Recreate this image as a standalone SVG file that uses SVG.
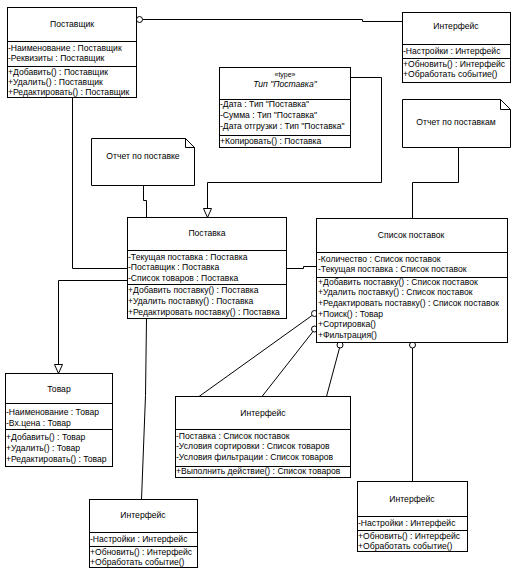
<svg xmlns="http://www.w3.org/2000/svg" width="515" height="575" viewBox="0 0 515 575">
<style>
  .box { fill: #fff; stroke: #000; stroke-width: 1; }
  .sep { stroke: #000; stroke-width: 1; }
  .ln { fill: none; stroke: #000; stroke-width: 1; }
  .lol { fill: #fff; stroke: #000; stroke-width: 1; }
  .arr { fill: #fff; stroke: #000; stroke-width: 1; }
  text { font-family: "Liberation Sans", Arial, sans-serif; font-size: 8.6px; fill: #000; }
  .t { text-anchor: middle; }
  .st { font-size: 7px; text-anchor: middle; }
  .it { font-style: italic; text-anchor: middle; }
</style>
<rect width="515" height="575" fill="#fff"/>

<g id="connectors">
  <polyline class="ln" points="142.5,19.5 362.5,19.5 362.5,21.5 402.5,21.5"/>
  <polyline class="ln" points="72.5,97.5 72.5,268.5 127.5,268.5"/>
  <polyline class="ln" points="350.5,77.5 381.5,77.5 381.5,182.5 207.5,182.5 207.5,208.5"/>
  <polygon class="arr" points="203.5,208.5 211.5,208.5 207.5,217.5"/>
  <polyline class="ln" points="143.5,185.5 143.5,200.5 146.5,200.5 146.5,217.5"/>
  <polyline class="ln" points="458.5,147.5 458.5,182.5 412.5,182.5 412.5,218.5"/>
  <polyline class="ln" points="286.5,268.5 303.5,268.5 303.5,266.5 316.5,266.5"/>
  <polyline class="ln" points="127.5,280.5 58.5,280.5 58.5,364.5"/>
  <polygon class="arr" points="54.5,364.5 62.5,364.5 58.5,373.5"/>
  <polyline class="ln" points="146.5,318.5 145.5,395.5 141.5,499.5"/>
  <line class="ln" x1="312" y1="315.5" x2="199" y2="396.5"/>
  <line class="ln" x1="313" y1="331.5" x2="262" y2="396.5"/>
  <line class="ln" x1="339.5" y1="348" x2="326.5" y2="396.5"/>
  <line class="ln" x1="412.5" y1="348" x2="412.5" y2="481.5"/>
  <circle class="lol" cx="139.5" cy="19.5" r="3"/>
  <circle class="lol" cx="314.5" cy="313.5" r="3"/>
  <circle class="lol" cx="314.5" cy="329" r="3"/>
  <circle class="lol" cx="340" cy="345" r="3"/>
  <circle class="lol" cx="412.5" cy="345" r="3"/>
</g>

<g id="postavshchik">
  <rect class="box" x="7.5" y="7.5" width="129" height="90"/>
  <line class="sep" x1="7.5" y1="41.5" x2="136.5" y2="41.5"/>
  <line class="sep" x1="7.5" y1="66.5" x2="136.5" y2="66.5"/>
  <text class="t" x="72" y="27">Поставщик</text>
  <text x="8" y="51">-Наименование : Поставщик</text>
  <text x="8" y="61">-Реквизиты : Поставщик</text>
  <text x="8" y="75">+Добавить() : Поставщик</text>
  <text x="8" y="85">+Удалить() : Поставщик</text>
  <text x="8" y="95">+Редактировать() : Поставщик</text>
</g>

<g id="interface-top">
  <rect class="box" x="402.5" y="12.5" width="108" height="70"/>
  <line class="sep" x1="402.5" y1="44.5" x2="510.5" y2="44.5"/>
  <line class="sep" x1="402.5" y1="58.5" x2="510.5" y2="58.5"/>
  <text class="t" x="456" y="29">Интерфейс</text>
  <text x="403" y="54">-Настройки : Интерфейс</text>
  <text x="403" y="67">+Обновить() : Интерфейс</text>
  <text x="403" y="77">+Обработать событие()</text>
</g>

<g id="type-postavka">
  <rect class="box" x="219.5" y="67.5" width="131" height="80"/>
  <line class="sep" x1="219.5" y1="99.5" x2="350.5" y2="99.5"/>
  <line class="sep" x1="219.5" y1="135.5" x2="350.5" y2="135.5"/>
  <text class="st" x="285" y="77">«type»</text>
  <text class="it" x="285" y="87">Тип "Поставка"</text>
  <text x="220" y="107">-Дата : Тип "Поставка"</text>
  <text x="220" y="118">-Сумма : Тип "Поставка"</text>
  <text x="220" y="129">-Дата отгрузки : Тип "Поставка"</text>
  <text x="220" y="144">+Копировать() : Поставка</text>
</g>

<g id="note-postavka">
  <path class="box" d="M91.5,138.5 H185.5 L194.5,147.5 V185.5 H91.5 Z"/>
  <polyline class="ln" points="185.5,138.5 185.5,147.5 194.5,147.5"/>
  <text class="t" x="143" y="159">Отчет по поставке</text>
</g>

<g id="note-postavki">
  <path class="box" d="M402.5,99.5 H500.5 L510.5,109.5 V147.5 H402.5 Z"/>
  <polyline class="ln" points="500.5,99.5 500.5,109.5 510.5,109.5"/>
  <text class="t" x="456" y="125">Отчет по поставкам</text>
</g>

<g id="postavka">
  <rect class="box" x="127.5" y="217.5" width="159" height="101"/>
  <line class="sep" x1="127.5" y1="250.5" x2="286.5" y2="250.5"/>
  <line class="sep" x1="127.5" y1="284.5" x2="286.5" y2="284.5"/>
  <text class="t" x="207" y="236">Поставка</text>
  <text x="128" y="260">-Текущая поставка : Поставка</text>
  <text x="128" y="270">-Поставщик : Поставка</text>
  <text x="128" y="281">-Список товаров : Поставка</text>
  <text x="128" y="293">+Добавить поставку() : Поставка</text>
  <text x="128" y="304">+Удалить поставку() : Поставка</text>
  <text x="128" y="315">+Редактировать поставку() : Поставка</text>
</g>

<g id="spisok-postavok">
  <rect class="box" x="316.5" y="218.5" width="191" height="124"/>
  <line class="sep" x1="316.5" y1="252.5" x2="507.5" y2="252.5"/>
  <line class="sep" x1="316.5" y1="277.5" x2="507.5" y2="277.5"/>
  <text class="t" x="411" y="238">Список поставок</text>
  <text x="318" y="262">-Количество : Список поставок</text>
  <text x="318" y="272">-Текущая поставка : Список поставок</text>
  <text x="318" y="285">+Добавить поставку() : Список поставок</text>
  <text x="318" y="295">+Удалить поставку() : Список поставок</text>
  <text x="318" y="306">+Редактировать поставку() : Список поставок</text>
  <text x="318" y="317">+Поиск() : Товар</text>
  <text x="318" y="327">+Сортировка()</text>
  <text x="318" y="338">+Фильтрация()</text>
</g>

<g id="tovar">
  <rect class="box" x="5.5" y="373.5" width="107" height="93"/>
  <line class="sep" x1="5.5" y1="403.5" x2="112.5" y2="403.5"/>
  <line class="sep" x1="5.5" y1="429.5" x2="112.5" y2="429.5"/>
  <text class="t" x="59" y="392">Товар</text>
  <text x="6" y="415">-Наименование : Товар</text>
  <text x="6" y="426">-Вх.цена : Товар</text>
  <text x="6" y="440">+Добавить() : Товар</text>
  <text x="6" y="451">+Удалить() : Товар</text>
  <text x="6" y="462">+Редактировать() : Товар</text>
</g>

<g id="interface-middle">
  <rect class="box" x="175.5" y="396.5" width="175" height="81"/>
  <line class="sep" x1="175.5" y1="429.5" x2="350.5" y2="429.5"/>
  <line class="sep" x1="175.5" y1="466.5" x2="350.5" y2="466.5"/>
  <text class="t" x="263" y="416">Интерфейс</text>
  <text x="176" y="439">-Поставка : Список поставок</text>
  <text x="176" y="449">-Условия сортировки : Список товаров</text>
  <text x="176" y="460">-Условия фильтрации : Список товаров</text>
  <text x="176" y="474">+Выполнить действие() : Список товаров</text>
</g>

<g id="interface-bottom-left">
  <rect class="box" x="89.5" y="499.5" width="108" height="68"/>
  <line class="sep" x1="89.5" y1="532.5" x2="197.5" y2="532.5"/>
  <line class="sep" x1="89.5" y1="546.5" x2="197.5" y2="546.5"/>
  <text class="t" x="143" y="518">Интерфейс</text>
  <text x="90" y="542">-Настройки : Интерфейс</text>
  <text x="90" y="555">+Обновить() : Интерфейс</text>
  <text x="90" y="565">+Обработать событие()</text>
</g>

<g id="interface-bottom-right">
  <rect class="box" x="357.5" y="481.5" width="110" height="70"/>
  <line class="sep" x1="357.5" y1="516.5" x2="467.5" y2="516.5"/>
  <line class="sep" x1="357.5" y1="530.5" x2="467.5" y2="530.5"/>
  <text class="t" x="412" y="502">Интерфейс</text>
  <text x="358" y="526">-Настройки : Интерфейс</text>
  <text x="358" y="539">+Обновить() : Интерфейс</text>
  <text x="358" y="549">+Обработать событие()</text>
</g>
</svg>
